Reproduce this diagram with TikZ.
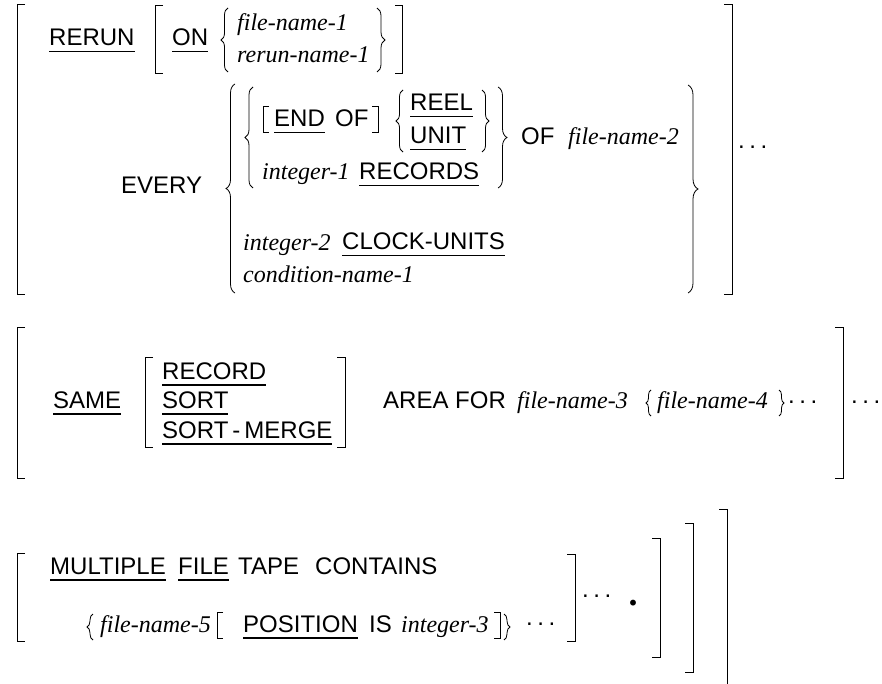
\documentclass[tikz,border=0pt]{standalone}
\usepackage{fontspec}
\setmainfont{Liberation Serif}
\setsansfont{Liberation Sans}
\usetikzlibrary{decorations.pathreplacing}
\newsavebox\kwbox
\newcommand{\kwd}[1]{\sbox\kwbox{#1}\rlap{\rule[-6.5pt]{\wd\kwbox}{1.2pt}}\usebox\kwbox}
\newcommand{\rpt}{.\kern4.5pt.\kern4.5pt.}

\begin{document}
\begin{tikzpicture}[x=1pt,y=-1pt,
                every node/.style={anchor=base west,inner sep=0pt,font=\sffamily\fontsize{24}{28}\selectfont},
                nm/.style={font=\rmfamily\itshape\fontsize{24}{28}\selectfont},
                brk/.style={line width=1pt},
                lbr/.style={decorate,decoration={brace,amplitude=#1},line width=0.8pt}]
  \useasboundingbox (0,0) rectangle (882,684);
  % RERUN clause
  \node            (rerun) at (49,46)  {\kwd{RERUN}};
  \node            (on) at (172,46)  {\kwd{ON}};
  \node[nm]        (fn1) at (237,31)  {file-name-1};
  \node[nm]        (rn1) at (237,63)  {rerun-name-1};
  \node            (every) at (121,194)  {EVERY};
  \node            (endw) at (274,127)  {\kwd{END}};
  \node            (ofa) at (335,127)  {OF};
  \node            (reel) at (410,111)  {\kwd{REEL}};
  \node            (unit) at (410,144)  {\kwd{UNIT}};
  \node[nm]        (int1) at (262,180)  {integer-1};
  \node            (records) at (359,180)  {\kwd{RECORDS}};
  \node            (ofb) at (521,145)  {OF};
  \node[nm]        (fn2) at (568,145)  {file-name-2};
  \node[nm]        (int2) at (243,251)  {integer-2};
  \node            (clock) at (342,250)  {\kwd{CLOCK-UNITS}};
  \node[nm]        (cond) at (243,283)  {condition-name-1};
  \node            (dotsa) at (738,148.5)  {\rpt};
  \draw[brk] (25,5) -- (17,5) -- (17,294) -- (25,294);
  \draw[brk] (163,6) -- (155,6) -- (155,74) -- (163,74);
  \draw[brk] (395,6) -- (402,6) -- (402,74) -- (395,74);
  \draw[brk] (269,107) -- (263,107) -- (263,133) -- (269,133);
  \draw[brk] (372,107) -- (378,107) -- (378,133) -- (372,133);
  \draw[brk] (724,5) -- (732,5) -- (732,294) -- (724,294);
  \draw[lbr=7] (228,72) -- (228,8);
  \draw[lbr=8] (377,8) -- (377,72);
  \draw[lbr=9] (235,293) -- (235,84);
  \draw[lbr=8] (253,188) -- (253,87);
  \draw[lbr=7] (403,152) -- (403,90);
  \draw[lbr=7] (482,90) -- (482,152);
  \draw[lbr=9] (498,87) -- (498,188);
  \draw[lbr=10] (688,85) -- (688,293);
  % SAME AREA clause
  \node            (same) at (53,408)  {\kwd{SAME}};
  \node            (record) at (162,379)  {\kwd{RECORD}};
  \node            (sort) at (162,408)  {\kwd{SORT}};
  \node            (merge) at (162,438)  {\kwd{SORT\,-\,MERGE}};
  \node            (area) at (383,408)  {AREA FOR};
  \node[nm]        (fn3) at (517,408)  {file-name-3};
  \node[nm]        (fn4) at (657,408)  {file-name-4};
  \node            (dotsb) at (788,403.5)  {\rpt};
  \node            (dotsc) at (851,403)  {\rpt};
  \draw[brk] (25,327) -- (17,327) -- (17,478) -- (25,478);
  \draw[brk] (153,357) -- (145,357) -- (145,447) -- (153,447);
  \draw[brk] (337,357) -- (345,357) -- (345,447) -- (337,447);
  \draw[brk] (835,327) -- (843,327) -- (843,478) -- (835,478);
  \draw[lbr=5] (651,416) -- (651,390);
  \draw[lbr=5] (779,390) -- (779,416);
  % MULTIPLE FILE clause
  \node            (mult) at (50,574)  {\kwd{MULTIPLE}};
  \node            (file) at (178,574)  {\kwd{FILE}};
  \node            (tape) at (238,574)  {TAPE};
  \node            (contains) at (315,574)  {CONTAINS};
  \node[nm]        (fn5) at (100,632)  {file-name-5};
  \node            (position) at (243,632)  {\kwd{POSITION}};
  \node            (is) at (369,632)  {IS};
  \node[nm]        (int3) at (401,632)  {integer-3};
  \node            (dotsd) at (526,625.5)  {\rpt};
  \node            (dotse) at (582,597.5)  {\rpt};
  \node[anchor=base,font=\rmfamily\bfseries\fontsize{36}{40}\selectfont] (stop) at (633,605)  {.};
  \draw[brk] (25,553) -- (17,553) -- (17,641) -- (25,641);
  \draw[lbr=6] (93,640) -- (93,614);
  \draw[brk] (223,612) -- (217,612) -- (217,638) -- (223,638);
  \draw[brk] (494,612) -- (500,612) -- (500,638) -- (494,638);
  \draw[lbr=6] (504,614) -- (504,640);
  \draw[brk] (567,554) -- (575,554) -- (575,641) -- (567,641);
  \draw[brk] (652,538) -- (660,538) -- (660,657) -- (652,657);
  \draw[brk] (685,523) -- (693,523) -- (693,672) -- (685,672);
  \draw[brk] (719,509) -- (727,509) -- (727,684);
\end{tikzpicture}
\end{document}
